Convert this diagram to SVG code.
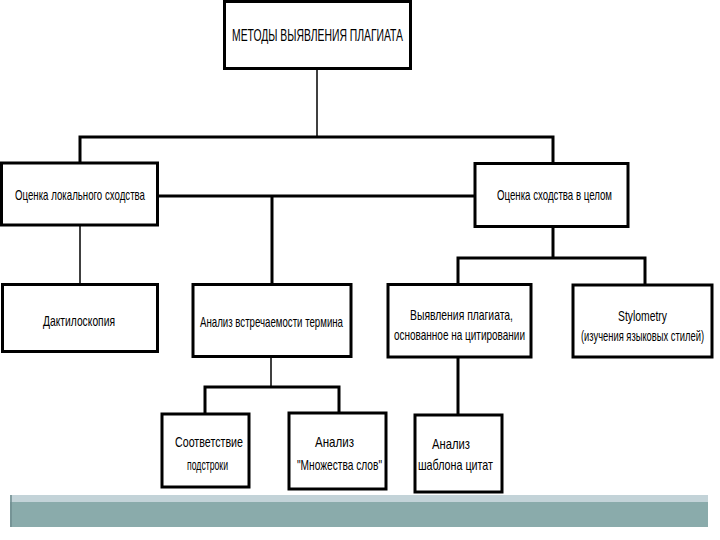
<svg xmlns="http://www.w3.org/2000/svg" width="720" height="540" viewBox="0 0 720 540">
<style>
.box{fill:#fff;stroke:#000;stroke-width:3}
.thin{stroke:#000;stroke-width:1.5;fill:none}
.thick{stroke:#000;stroke-width:3;fill:none}
text{font-family:"Liberation Sans",Arial,sans-serif;font-size:15px;fill:#000}
</style>
<rect width="720" height="540" fill="#fff"/>
<g id="connectors">
<line class="thin" x1="317" y1="69" x2="317" y2="137"/>
<polyline class="thick" points="80,163 80,137 553,137 553,163"/>
<line class="thin" x1="80" y1="225" x2="80" y2="284"/>
<line class="thick" x1="157" y1="196" x2="475" y2="196"/>
<line class="thick" x1="272" y1="196" x2="272" y2="284"/>
<line class="thick" x1="553" y1="227" x2="553" y2="258"/>
<polyline class="thick" points="458,284 458,258 645,258 645,285"/>
<line class="thin" x1="271" y1="357" x2="271" y2="387"/>
<polyline class="thick" points="205,414 205,387 339,387 339,413"/>
<line class="thick" x1="458" y1="357" x2="458" y2="415"/>
</g>
<g id="root">
<rect class="box" x="224.5" y="1.5" width="186" height="67"/>
<text x="232" y="41" style="font-size:16px" textLength="171" lengthAdjust="spacingAndGlyphs">МЕТОДЫ ВЫЯВЛЕНИЯ ПЛАГИАТА</text>
</g>
<g id="local">
<rect class="box" x="1.5" y="163" width="156" height="62"/>
<text x="15" y="200" textLength="130" lengthAdjust="spacingAndGlyphs">Оценка локального сходства</text>
</g>
<g id="global">
<rect class="box" x="475" y="163.5" width="153" height="63"/>
<text x="497" y="200" textLength="115" lengthAdjust="spacingAndGlyphs">Оценка сходства в целом</text>
</g>
<g id="dactyl">
<rect class="box" x="2.5" y="284.5" width="155" height="67"/>
<text x="43" y="326" textLength="72" lengthAdjust="spacingAndGlyphs">Дактилоскопия</text>
</g>
<g id="term">
<rect class="box" x="193" y="284.5" width="158" height="72"/>
<text x="200" y="327" textLength="143" lengthAdjust="spacingAndGlyphs">Анализ встречаемости термина</text>
</g>
<g id="citation">
<rect class="box" x="388" y="284.5" width="143" height="72.5"/>
<text x="410" y="320" textLength="103" lengthAdjust="spacingAndGlyphs">Выявления плагиата,</text>
<text x="394" y="340" textLength="131" lengthAdjust="spacingAndGlyphs">основанное на цитировании</text>
</g>
<g id="stylometry">
<rect class="box" x="573" y="285" width="139" height="72"/>
<text x="618" y="321" textLength="49" lengthAdjust="spacingAndGlyphs">Stylometry</text>
<text x="581" y="341" font-size="14" textLength="123" lengthAdjust="spacingAndGlyphs">(изучения языковых стилей)</text>
</g>
<g id="substring">
<rect class="box" x="162" y="414" width="87" height="73"/>
<text x="175" y="447" textLength="68" lengthAdjust="spacingAndGlyphs">Соответствие</text>
<text x="187" y="470" textLength="41" lengthAdjust="spacingAndGlyphs">подстроки</text>
</g>
<g id="bagofwords">
<rect class="box" x="289" y="413" width="97" height="76"/>
<text x="315" y="447" textLength="39" lengthAdjust="spacingAndGlyphs">Анализ</text>
<text x="297" y="470" textLength="85" lengthAdjust="spacingAndGlyphs">"Множества слов"</text>
</g>
<g id="template">
<rect class="box" x="415" y="415" width="87" height="77"/>
<text x="432" y="449" textLength="38" lengthAdjust="spacingAndGlyphs">Анализ</text>
<text x="418" y="470" textLength="75" lengthAdjust="spacingAndGlyphs">шаблона цитат</text>
</g>
<g id="footer">
<rect x="10" y="495" width="698" height="32" fill="#8aabab"/>
<rect x="10" y="495" width="698" height="7" fill="#c3d3d8"/>
<line x1="11" y1="495" x2="11" y2="527" stroke="#6f8c8f" stroke-width="1.5"/>
</g>
</svg>
